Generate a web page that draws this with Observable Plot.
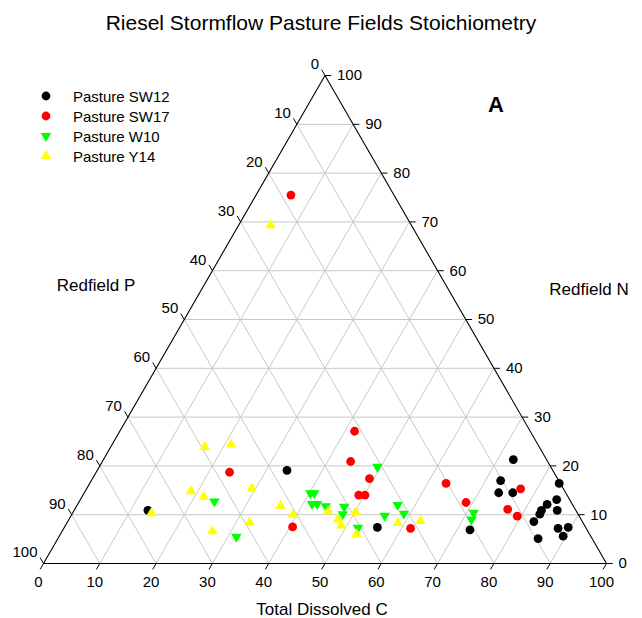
<!DOCTYPE html>
<html>
<head>
<meta charset="utf-8">
<script src="https://cdn.jsdelivr.net/npm/d3@7"></script>
<script src="https://cdn.jsdelivr.net/npm/@observablehq/plot@0.6"></script>
<style>
  html, body { margin: 0; padding: 0; background: #fff; }
  body { font-family: "Liberation Sans", Arial, Helvetica, sans-serif; color: #000; }
  #wrap { position: relative; width: 642px; height: 618px; overflow: hidden; }
  #chart { position: absolute; left: 0; top: 0; }
  .lbl { position: absolute; white-space: nowrap; line-height: 1; transform: translate(-50%, -50%); }
  #title { left: 321px; top: 22px; font-size: 21px; }
  #ptitle { left: 96px; top: 285px; font-size: 17px; }
  #ntitle { left: 589px; top: 289px; font-size: 17px; }
  #ctitle { left: 322px; top: 609px; font-size: 17px; }
  #panel { left: 496px; top: 105px; font-size: 22px; font-weight: bold; }
  #legend { position: absolute; left: 38px; top: 86px; font-size: 15px; line-height: 1; }
  .row { display: flex; align-items: center; height: 20px; }
  .row svg { width: 16px; height: 16px; margin-right: 19px; }
</style>
</head>
<body>
<div id="wrap">
  <div id="chart"></div>
  <div class="lbl" id="title">Riesel Stormflow Pasture Fields Stoichiometry</div>
  <div class="lbl" id="ptitle">Redfield P</div>
  <div class="lbl" id="ntitle">Redfield N</div>
  <div class="lbl" id="ctitle">Total Dissolved C</div>
  <div class="lbl" id="panel">A</div>
  <div id="legend"></div>
</div>
<script>
// ---- Data (percent composition; Redfield P = 100 - C - N) ----
const ticks = [0, 10, 20, 30, 40, 50, 60, 70, 80, 90, 100];

const seriesNames = ["Pasture SW12", "Pasture SW17", "Pasture W10", "Pasture Y14"];
const seriesColors = ["#000000", "#ff0000", "#00ff00", "#ffff00"];
const seriesSymbols = ["circle", "circle", "triangle", "triangle"];
const seriesRotate = [0, 0, 180, 0];

const sw12C = [33.7, 13.1, 55.6, 72.8, 72.7, 73.6, 76.1, 83.4, 84.6, 83.4, 83.0, 83.1, 85.8, 82.8, 72.3, 87.8, 89.5, 89.5, 85.3];
const sw12N = [19.1, 10.9, 7.4, 21.3, 17.0, 14.5, 14.5, 16.4, 13.1, 12.1, 10.9, 10.1, 10.9, 8.6, 6.9, 7.2, 7.4, 5.6, 5.1];

const sw17C = [6.2, 23.7, 40.5, 41.7, 44.1, 49.2, 49.0, 50.1, 63.3, 61.6, 68.8, 77.1, 76.9, 79.3];
const sw17N = [75.5, 18.7, 7.5, 27.1, 20.9, 17.4, 14.0, 14.0, 16.4, 7.2, 12.5, 15.3, 11.1, 9.7];

const w10C = [24.0, 31.5, 40.2, 40.9, 41.6, 42.5, 44.3, 47.6, 48.1, 52.2, 49.4, 55.7, 56.9, 58.9, 71.2, 71.5];
const w10N = [12.7, 5.5, 14.4, 14.4, 12.2, 12.2, 11.7, 11.6, 10.1, 7.3, 19.8, 9.8, 12.0, 10.2, 10.4, 9.0];

const y14C = [5.7, 16.7, 21.1, 18.8, 21.6, 29.3, 14.0, 36.2, 39.3, 26.7, 32.4, 45.2, 47.8, 49.0, 50.2, 52.6, 58.8, 62.6];
const y14N = [69.3, 23.9, 24.4, 14.8, 13.7, 15.4, 10.3, 11.8, 10.0, 6.6, 8.4, 10.7, 9.0, 7.8, 10.5, 6.0, 8.3, 8.7];

const seriesC = [sw12C, sw17C, w10C, y14C];
const seriesN = [sw12N, sw17N, w10N, y14N];

// ---- Ternary -> cartesian (x = C + N/2, y = N; frame aspect gives the equilateral shape) ----
const tx = (c, n) => c + n / 2;

const inner = ticks.filter(t => t > 0 && t < 100);
const grid = inner.flatMap(v => [
  {c1: 0, n1: v, c2: 100 - v, n2: v},          // constant N
  {c1: v, n1: 0, c2: v, n2: 100 - v},          // constant C
  {c1: 100 - v, n1: 0, c2: 0, n2: 100 - v}     // constant P
]);
const outline = [{c: 0, n: 0}, {c: 100, n: 0}, {c: 0, n: 100}, {c: 0, n: 0}];

const marks = [
  Plot.link(grid, {
    x1: d => tx(d.c1, d.n1), y1: d => d.n1,
    x2: d => tx(d.c2, d.n2), y2: d => d.n2,
    stroke: "#c8c8c8", strokeWidth: 1
  }),
  Plot.line(outline, {x: d => tx(d.c, d.n), y: d => d.n, stroke: "#000", strokeWidth: 1.1}),
  // bottom ticks (C), pointing down-left
  Plot.link(ticks, {x1: v => v, y1: 0, x2: v => v - 0.6, y2: -1.2, stroke: "#000"}),
  // right ticks (N), pointing right
  Plot.link(ticks, {x1: v => tx(100 - v, v), y1: v => v, x2: v => tx(100 - v, v) + 1.1, y2: v => v, stroke: "#000"}),
  // left ticks (P), pointing up-left
  Plot.link(ticks, {x1: v => tx(0, 100 - v), y1: v => 100 - v, x2: v => tx(-1.2, 101.2 - v), y2: v => 101.2 - v, stroke: "#000"}),
  Plot.text(ticks, {x: v => v, y: 0, text: v => String(v), dx: -5, dy: 19, fontSize: 15}),
  Plot.text(ticks, {x: v => tx(100 - v, v), y: v => v, text: v => String(v), textAnchor: "start", dx: 12, fontSize: 15}),
  Plot.text(ticks, {x: v => tx(0, 100 - v), y: v => 100 - v, text: v => String(v), textAnchor: "end", dx: -6, dy: -11, fontSize: 15})
];

seriesNames.forEach((name, i) => {
  const pts = seriesC[i].map((c, j) => ({c, n: seriesN[i][j]}));
  marks.push(Plot.dot(pts, {
    x: d => tx(d.c, d.n), y: d => d.n,
    symbol: seriesSymbols[i], rotate: seriesRotate[i],
    r: seriesSymbols[i] === "circle" ? 4.4 : 3.9,
    fill: seriesColors[i], stroke: "none"
  }));
});

const chart = Plot.plot({
  width: 642, height: 618,
  marginLeft: 43, marginRight: 36, marginTop: 75, marginBottom: 55,
  x: {domain: [0, 100], axis: null},
  y: {domain: [0, 100], axis: null},
  style: {fontFamily: "'Liberation Sans', Arial, sans-serif", fontSize: "15px", color: "#000", background: "transparent", overflow: "visible"},
  marks
});
document.getElementById("chart").appendChild(chart);

// ---- Legend ----
const legend = document.getElementById("legend");
seriesNames.forEach((name, i) => {
  const row = document.createElement("div");
  row.className = "row";
  const sym = d3.symbol(seriesSymbols[i] === "circle" ? d3.symbolCircle : d3.symbolTriangle,
    Math.PI * Math.pow(seriesSymbols[i] === "circle" ? 4.4 : 3.9, 2))();
  row.innerHTML = `<svg viewBox="-8 -8 16 16"><path d="${sym}" fill="${seriesColors[i]}" transform="rotate(${seriesRotate[i]})"/></svg><span>${name}</span>`;
  legend.appendChild(row);
});
</script>
</body>
</html>
